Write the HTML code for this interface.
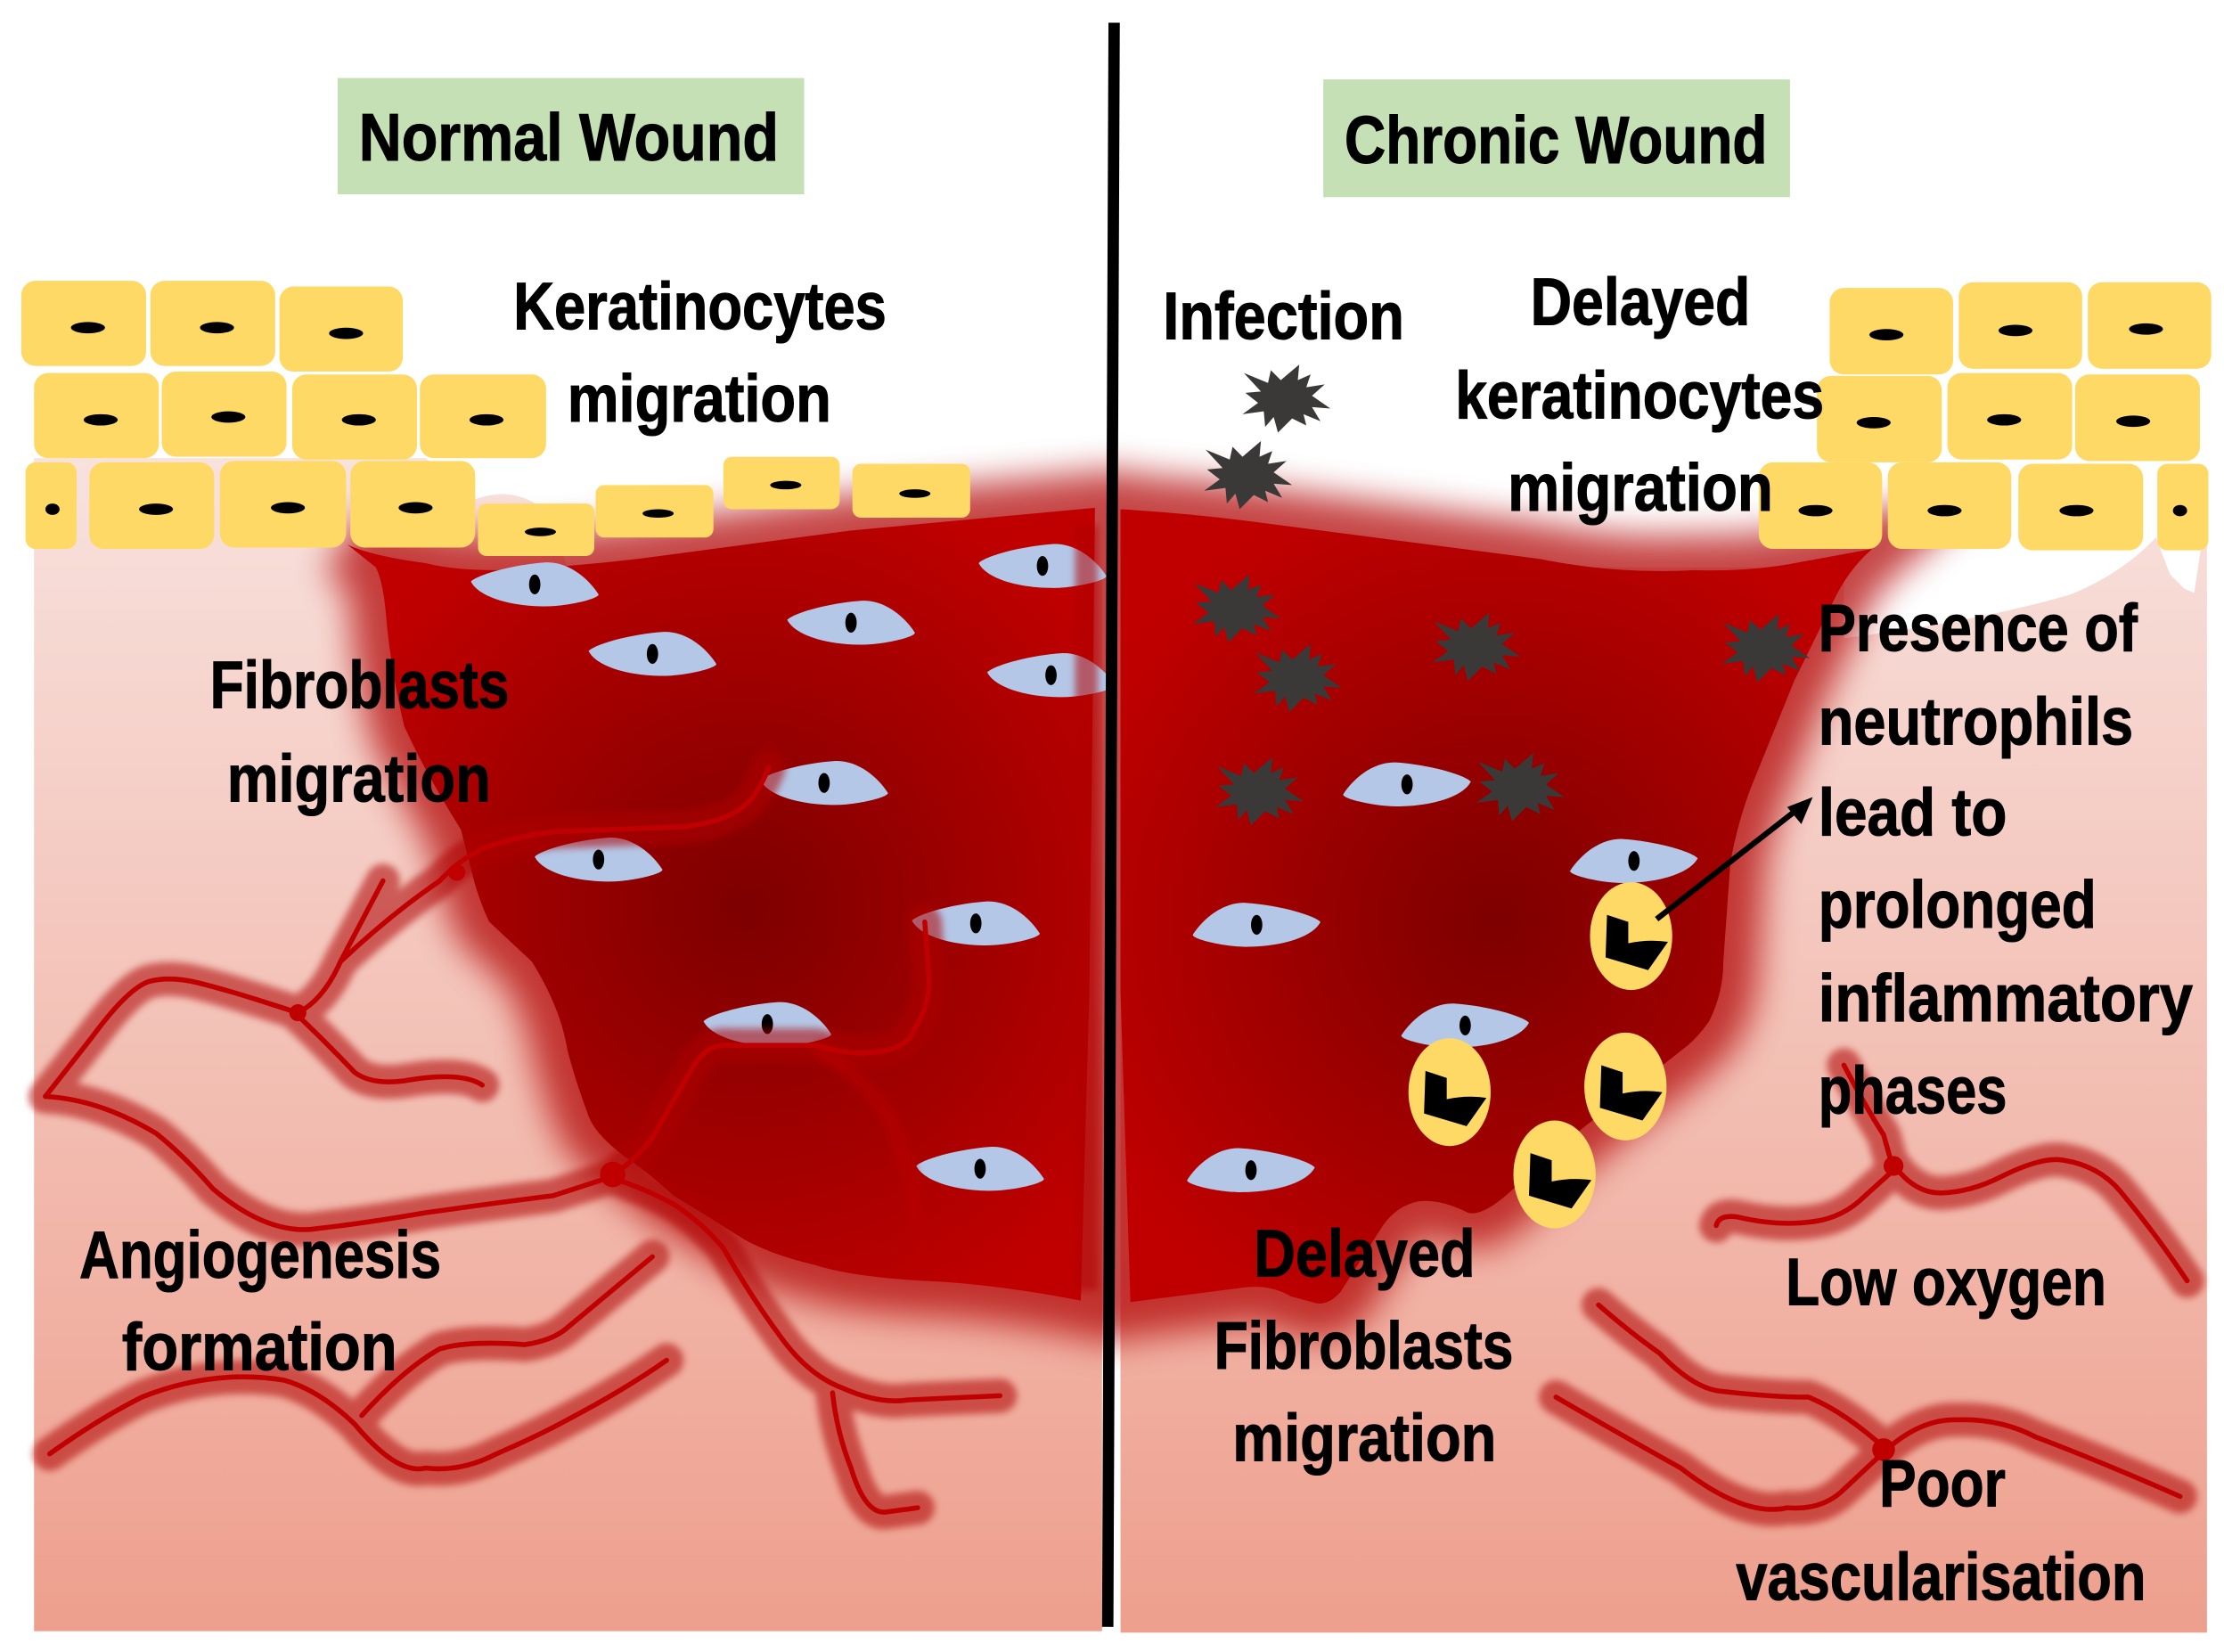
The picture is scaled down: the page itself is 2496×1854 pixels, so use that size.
<!DOCTYPE html>
<html><head><meta charset="utf-8">
<style>
html,body{margin:0;padding:0;background:#fff}
svg{display:block}
text{font-family:"Liberation Sans",sans-serif;font-weight:bold;font-size:47px;fill:#000;stroke:#000;stroke-width:.7px}
</style></head>
<body>
<svg xmlns="http://www.w3.org/2000/svg" width="2496" height="1854" viewBox="0 0 1568 1164.7">
<defs>
<linearGradient id="bg1" gradientUnits="userSpaceOnUse" x1="0" y1="323" x2="0" y2="1151"><stop offset="0" stop-color="#f8e2de"/><stop offset="1" stop-color="#ee9f8d"/></linearGradient>
<radialGradient id="wl" gradientUnits="userSpaceOnUse" cx="525" cy="640" r="320"><stop offset="0" stop-color="#7d0000"/><stop offset="1" stop-color="#c00000"/></radialGradient>
<radialGradient id="wr" gradientUnits="userSpaceOnUse" cx="1055" cy="650" r="320"><stop offset="0" stop-color="#7d0000"/><stop offset="1" stop-color="#c00000"/></radialGradient>
<filter id="b12" x="-20%" y="-20%" width="140%" height="140%"><feGaussianBlur stdDeviation="12"/></filter>
<filter id="b3" x="-20%" y="-20%" width="140%" height="140%" filterUnits="userSpaceOnUse"><feGaussianBlur stdDeviation="2.5"/></filter>
<path id="w1" d="M245,384 Q262,392 300,397 Q320,402 350,402 Q400,400 450,394 L600,374 L772,358 L768,700 L762,917 Q700,905 650,903 Q600,900 575,892 Q545,885 525,874 Q495,855 475,843 Q455,825 440,815 Q420,800 415,787 Q405,760 400,740 Q395,710 375,678 L345,650 Q340,640 335,624 L325,585 Q300,545 285,512 Q275,470 272,432 Q270,410 265,400 Z"/>
<path id="w2" d="M790,359 Q840,362 885,368 L985,381 L1085,394 Q1140,405 1195,402 Q1230,403 1260,398 L1320,387 Q1305,400 1295,419 L1265,480 L1235,554 Q1225,580 1220,608 L1215,678 Q1215,700 1205,720 Q1198,730 1190,737 L1110,800 L1065,840 Q1045,858 1035,855 Q1015,845 1000,847 Q985,850 975,864 L945,911 Q935,922 925,918 L910,914 Q895,905 875,908 L797,918 L790,700 Z"/>
<path id="fa" d="M-45,-2 C-40,-7 -15,-14 8,-15.5 C24,-16 38,-4 45,7 C46,10 22,16 5,15.5 C-20,15 -40,8 -45,-2 Z"/>
<g id="fibA"><use href="#fa" fill="#b4c7e7"/><ellipse cx="0" cy="0" rx="4" ry="7" fill="#000"/></g>
<g id="fibB"><use href="#fa" fill="#b4c7e7" transform="scale(-1,1)"/><ellipse cx="0" cy="0" rx="4" ry="7" fill="#000"/></g>
<polygon id="star" fill="#3b3838" points="32,7 19,6 25,16 13,11 15,19 5,14 -5,24 -8,13 -14,20 -15,9 -30,11 -19,3 -28,-4 -17,-5 -29,-18 -12,-11 -10,-20 -3,-13 10,-24 9,-13 18,-17 15,-8 28,-10 19,-2"/>
<g id="neu"><ellipse cx="0" cy="0" rx="29" ry="38" fill="#ffd966"/><path d="M-17,-15 L-2,-10 L-2,5 Q12,2 26,4 L12,24 L-18,15 Z" fill="#000"/></g>
<g id="ves" fill="none" stroke-linecap="round" stroke-linejoin="round">
<path d="M32,773 L65,731 Q90,697 105,692 Q120,688 140,693 Q160,698 185,706 L210,714"/>
<path d="M210,714 Q228,705 240,678 L270,621"/>
<path d="M210,716 Q230,735 250,756 Q262,765 285,762 Q325,755 340,765"/>
<path d="M32,773 Q70,775 110,799 Q130,815 150,838 Q190,872 225,866 Q260,862 300,855 Q350,848 390,843 L430,830"/>
<path d="M430,830 Q448,818 460,802 Q478,770 490,750 Q500,735 515,737 L575,737 Q600,744 615,742 Q640,740 645,725 Q655,710 655,690 L652,650"/>
<path d="M240,678 Q275,645 310,621 Q330,600 350,595 Q380,586 400,586 L480,583 Q515,580 530,563 Q538,552 542,541"/>
<path d="M430,830 Q455,838 475,849 Q495,862 510,880 Q530,915 550,942 Q570,970 595,979 Q620,990 640,987 L705,984"/>
<path d="M587,982 Q590,1010 600,1035 Q610,1068 625,1066 L647,1063"/>
<path d="M35,1025 Q70,1000 100,985 Q150,965 200,973 Q225,980 250,1004 Q280,1040 300,1035 Q325,1038 350,1025 Q380,1012 400,1001 Q440,980 470,959"/>
<path d="M255,998 Q285,965 310,951 Q330,945 370,948 Q390,945 400,936 L460,886"/>
<path d="M1300,751 Q1318,785 1328,800 L1335,825"/>
<path d="M1210,864 Q1212,856 1225,858 Q1255,865 1280,861 Q1300,858 1315,843 L1335,825"/>
<path d="M1335,821 Q1350,842 1370,841 Q1390,840 1410,830 Q1440,815 1455,818 Q1480,822 1495,840 Q1520,870 1542,903"/>
<path d="M1127,920 Q1150,940 1170,954 Q1195,980 1215,981 Q1250,985 1275,985 Q1300,995 1330,1022"/>
<path d="M1097,985 Q1140,1010 1185,1035 Q1230,1070 1260,1063 Q1285,1065 1300,1050 L1330,1022"/>
<path d="M1330,1022 Q1355,1000 1380,1001 Q1410,1000 1435,1013 Q1480,1030 1537,1055"/>
</g>
</defs>

<rect width="1568" height="1165" fill="#fff"/>
<!-- backgrounds -->
<path fill="url(#bg1)" d="M24,323 L300,323 L335,352 C350,347 365,345 385,360 L400,400 L777,400 L777,1150 L24,1150 Z"/>
<path fill="url(#bg1)" d="M790,400 L1300,400 L1300,450 Q1400,437 1460,419 Q1495,405 1520,379 L1530,405 L1540,415 L1547,418 L1552,385 L1556,385 L1556,1151 L790,1151 Z"/>

<!-- wound glow -->
<g filter="url(#b12)" opacity="0.72">
<use href="#w1" fill="#b00000" stroke="#b00000" stroke-width="50"/>
<use href="#w2" fill="#b00000" stroke="#b00000" stroke-width="50"/>
</g>
<use href="#w1" fill="url(#wl)"/>
<use href="#w2" fill="url(#wr)"/>

<!-- fibroblasts left -->
<use href="#fibA" x="377" y="412"/>
<use href="#fibA" x="460" y="461"/>
<use href="#fibA" x="600" y="439"/>
<use href="#fibA" x="735" y="399"/>
<use href="#fibA" x="741" y="476"/>
<use href="#fibA" x="581" y="552"/>
<use href="#fibA" x="422" y="606"/>
<use href="#fibA" x="688" y="651"/>
<use href="#fibA" x="541" y="722"/>
<use href="#fibA" x="691" y="824"/>
<!-- fibroblasts right -->
<use href="#fibB" x="992" y="553"/>
<use href="#fibB" x="886" y="652"/>
<use href="#fibB" x="882" y="825"/>
<use href="#fibB" x="1152" y="607"/>
<use href="#fibB" x="1033" y="723"/>

<!-- right edge stripe of left wound -->
<rect x="758" y="370" width="16" height="540" fill="#b00000" opacity="0.55" filter="url(#b3)"/>

<!-- vessels -->
<use href="#ves" stroke="#ad0000" stroke-width="24" opacity="0.55" filter="url(#b3)"/>
<path d="M575,737 Q608,760 625,784 Q640,815 645,849 L650,895" fill="none" stroke="#b80000" stroke-width="12" opacity="0.5" filter="url(#b3)"/>
<use href="#ves" stroke="#c00000" stroke-width="3.5"/>
<g fill="#c00000">
<circle cx="210" cy="714" r="6"/><circle cx="432" cy="828" r="9"/><circle cx="1335" cy="822" r="7"/><circle cx="1328" cy="1022" r="8"/><circle cx="322" cy="615" r="6"/>
</g>

<!-- cells -->
<g fill="#ffd966">
<rect x="15" y="198" width="88" height="60" rx="10"/><rect x="106" y="198" width="88" height="60" rx="10"/><rect x="197" y="202" width="87" height="60" rx="10"/>
<rect x="24" y="263" width="88" height="60" rx="10"/><rect x="114" y="262" width="88" height="60" rx="10"/><rect x="206" y="264" width="88" height="60" rx="10"/><rect x="296" y="264" width="89" height="59" rx="10"/>
<rect x="18" y="326" width="36" height="61" rx="7"/><rect x="63" y="326" width="88" height="61" rx="10"/><rect x="155" y="325" width="89" height="61" rx="10"/><rect x="247" y="325" width="88" height="61" rx="10"/>
<rect x="337" y="355" width="82" height="37" rx="6"/><rect x="420" y="342" width="83" height="37" rx="6"/><rect x="510" y="322" width="82" height="37" rx="6"/><rect x="601" y="327" width="83" height="38" rx="6"/>
<rect x="1290" y="203" width="87" height="61" rx="10"/><rect x="1381" y="199" width="87" height="61" rx="10"/><rect x="1472" y="199" width="87" height="61" rx="10"/>
<rect x="1281" y="265" width="88" height="61" rx="10"/><rect x="1373" y="263" width="88" height="61" rx="10"/><rect x="1463" y="264" width="88" height="61" rx="10"/>
<rect x="1240" y="326" width="87" height="61" rx="10"/><rect x="1331" y="326" width="87" height="61" rx="10"/><rect x="1423" y="327" width="88" height="61" rx="10"/><rect x="1521" y="327" width="36" height="61" rx="7"/>
</g>
<g fill="#000">
<ellipse cx="62" cy="231" rx="12" ry="4"/><ellipse cx="153" cy="231" rx="12" ry="4"/><ellipse cx="244" cy="235" rx="12" ry="4"/>
<ellipse cx="71" cy="296" rx="12" ry="4"/><ellipse cx="161" cy="294" rx="12" ry="4"/><ellipse cx="253" cy="296" rx="12" ry="4"/><ellipse cx="343" cy="296" rx="12" ry="4"/>
<ellipse cx="37" cy="359" rx="5" ry="4"/><ellipse cx="110" cy="359" rx="12" ry="4"/><ellipse cx="203" cy="358" rx="12" ry="4"/><ellipse cx="293" cy="358" rx="12" ry="4"/>
<ellipse cx="381" cy="375" rx="11" ry="3"/><ellipse cx="464" cy="362" rx="11" ry="3"/><ellipse cx="554" cy="342" rx="11" ry="3"/><ellipse cx="645" cy="348" rx="11" ry="3"/>
<ellipse cx="1330" cy="236" rx="12" ry="4"/><ellipse cx="1421" cy="233" rx="12" ry="4"/><ellipse cx="1513" cy="232" rx="12" ry="4"/>
<ellipse cx="1321" cy="298" rx="12" ry="4"/><ellipse cx="1413" cy="296" rx="12" ry="4"/><ellipse cx="1504" cy="297" rx="12" ry="4"/>
<ellipse cx="1280" cy="360" rx="12" ry="4"/><ellipse cx="1371" cy="360" rx="12" ry="4"/><ellipse cx="1464" cy="360" rx="12" ry="4"/><ellipse cx="1537" cy="360" rx="5" ry="4"/>
</g>

<!-- bacteria -->
<use href="#star" x="906" y="281"/>
<use href="#star" x="879" y="335"/>
<use href="#star" x="871" y="429"/>
<use href="#star" x="1040" y="456"/>
<use href="#star" x="914" y="478"/>
<use href="#star" x="1244" y="457"/>
<use href="#star" x="887" y="558"/>
<use href="#star" x="1071" y="555"/>

<!-- neutrophils -->
<use href="#neu" x="1150" y="660"/>
<use href="#neu" x="1022" y="770"/>
<use href="#neu" x="1146" y="766"/>
<use href="#neu" x="1096" y="828"/>

<!-- arrow -->
<line x1="1168" y1="648" x2="1268" y2="570" stroke="#000" stroke-width="4"/>
<polygon points="1278,562 1260,569 1270,581" fill="#000"/>

<!-- divider -->
<line x1="785.5" y1="16" x2="781" y2="1147" stroke="#000" stroke-width="8"/>

<!-- title boxes -->
<rect x="238" y="55" width="329" height="82" fill="#c5e0b4"/>
<rect x="933" y="56" width="329" height="83" fill="#c5e0b4"/>

<!-- labels -->
<g>
<text x="253" y="113" textLength="296" lengthAdjust="spacingAndGlyphs">Normal Wound</text>
<text x="948" y="115" textLength="298" lengthAdjust="spacingAndGlyphs">Chronic Wound</text>
<text x="362" y="232" textLength="263" lengthAdjust="spacingAndGlyphs">Keratinocytes</text>
<text x="400" y="297" textLength="186" lengthAdjust="spacingAndGlyphs">migration</text>
<text x="148" y="499" textLength="211" lengthAdjust="spacingAndGlyphs">Fibroblasts</text>
<text x="160" y="565" textLength="186" lengthAdjust="spacingAndGlyphs">migration</text>
<text x="820" y="239" textLength="170" lengthAdjust="spacingAndGlyphs">Infection</text>
<text x="1079" y="229" textLength="155" lengthAdjust="spacingAndGlyphs">Delayed</text>
<text x="1026" y="295" textLength="260" lengthAdjust="spacingAndGlyphs">keratinocytes</text>
<text x="1063" y="360" textLength="187" lengthAdjust="spacingAndGlyphs">migration</text>
<text x="1282" y="459" textLength="225" lengthAdjust="spacingAndGlyphs">Presence of</text>
<text x="1282" y="525" textLength="222" lengthAdjust="spacingAndGlyphs">neutrophils</text>
<text x="1282" y="589" textLength="133" lengthAdjust="spacingAndGlyphs">lead to</text>
<text x="1282" y="654" textLength="196" lengthAdjust="spacingAndGlyphs">prolonged</text>
<text x="1282" y="720" textLength="264" lengthAdjust="spacingAndGlyphs">inflammatory</text>
<text x="1282" y="785" textLength="133" lengthAdjust="spacingAndGlyphs">phases</text>
<text x="1259" y="920" textLength="226" lengthAdjust="spacingAndGlyphs">Low oxygen</text>
<text x="1325" y="1062" textLength="89" lengthAdjust="spacingAndGlyphs">Poor</text>
<text x="1224" y="1128" textLength="289" lengthAdjust="spacingAndGlyphs">vascularisation</text>
<text x="884" y="900" textLength="156" lengthAdjust="spacingAndGlyphs">Delayed</text>
<text x="856" y="965" textLength="211" lengthAdjust="spacingAndGlyphs">Fibroblasts</text>
<text x="869" y="1030" textLength="186" lengthAdjust="spacingAndGlyphs">migration</text>
<text x="56" y="901" textLength="255" lengthAdjust="spacingAndGlyphs">Angiogenesis</text>
<text x="86" y="966" textLength="194" lengthAdjust="spacingAndGlyphs">formation</text>
</g>
</svg>
</body></html>
